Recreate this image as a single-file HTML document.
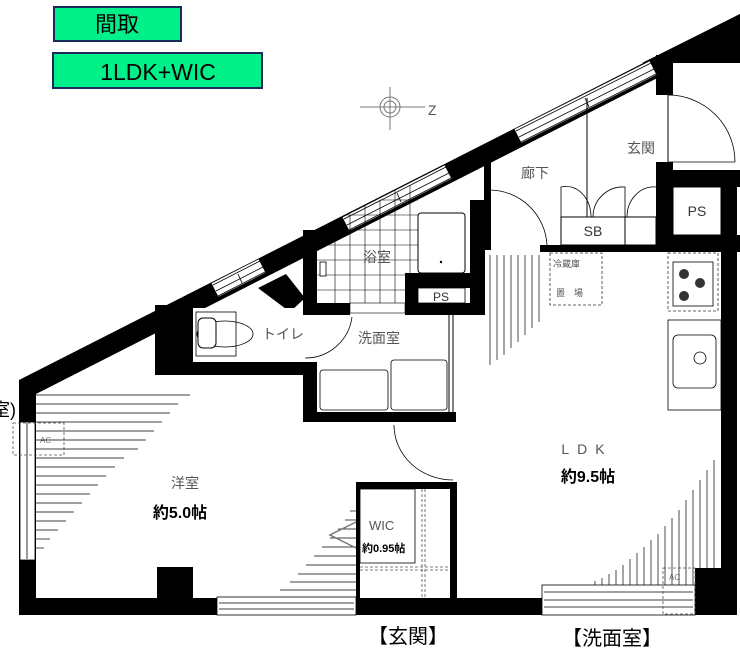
<!DOCTYPE html>
<html><head><meta charset="utf-8"><style>
html,body{margin:0;padding:0;background:#fff;}
svg{display:block;}
text{font-family:"Liberation Sans","Noto Sans CJK JP",sans-serif;}
</style></head><body>
<svg width="740" height="650" viewBox="0 0 740 650" xmlns="http://www.w3.org/2000/svg">
<rect x="54" y="7" width="127" height="34" fill="#00f08a" stroke="#1b2a5a" stroke-width="2"/>
<text x="117" y="32" font-size="22" text-anchor="middle" fill="#000">間取</text>
<rect x="53" y="53" width="209" height="35" fill="#00f08a" stroke="#1b2a5a" stroke-width="2"/>
<text x="158" y="80" font-size="23" text-anchor="middle" fill="#000">1LDK+WIC</text>
<g stroke="#777" fill="none" stroke-width="1">
<circle cx="390" cy="107" r="10"/><circle cx="390" cy="107" r="6"/>
<line x1="360" y1="107" x2="425" y2="107"/><line x1="390" y1="87" x2="390" y2="130"/>
</g>
<text x="428" y="115" font-size="14" fill="#555">Z</text>
<text x="-8" y="416" font-size="18" fill="#000">室)</text>

<g fill="#000">
<polygon points="19,380 740,14 740,36 36,394"/>
<polygon points="642,63 740,14 740,63"/>
<rect x="656" y="55" width="17" height="40"/>
<rect x="656" y="162" width="17" height="90"/>
<rect x="656" y="170" width="84" height="17"/>
<rect x="656" y="235" width="84" height="17"/>
<rect x="721" y="170" width="16" height="445"/>
<rect x="19" y="380" width="17" height="235"/>
<rect x="19" y="598" width="718" height="17"/>
<rect x="695" y="568" width="42" height="47"/>
<rect x="157" y="567" width="36" height="31"/>
<rect x="155" y="305" width="38" height="70"/>
<rect x="157" y="362" width="160" height="13"/>
<rect x="303" y="362" width="14" height="60"/>
<rect x="303" y="412" width="153" height="10"/>
<polygon points="258,288 286,274 305,298 290,312"/>
<rect x="303" y="230" width="14" height="85"/>
<rect x="303" y="303" width="47" height="12"/>
<rect x="405" y="273" width="15" height="42"/>
<rect x="405" y="303" width="80" height="12"/>
<rect x="470" y="200" width="15" height="115"/>
<rect x="405" y="273" width="80" height="15"/>
<rect x="484" y="160" width="7" height="90"/>
<rect x="540" y="245" width="116" height="7"/>
<rect x="356" y="482" width="101" height="7"/>
<rect x="450" y="482" width="7" height="116"/>
<rect x="356" y="482" width="4" height="116"/>
</g>
<g stroke-linecap="butt">
<line x1="215" y1="290" x2="262" y2="266" stroke="#fff" stroke-width="15"/>
<line x1="346" y1="224" x2="448" y2="172" stroke="#fff" stroke-width="15"/>
<line x1="518" y1="136" x2="653" y2="68" stroke="#fff" stroke-width="15"/>
<g stroke="#000" stroke-width="0.8">
<line x1="213" y1="285" x2="260" y2="261"/><line x1="216" y1="291" x2="263" y2="267"/><line x1="218" y1="296" x2="265" y2="272"/>
<line x1="344" y1="219" x2="446" y2="167"/><line x1="347" y1="225" x2="449" y2="173"/><line x1="349" y1="230" x2="451" y2="178"/>
<line x1="516" y1="131" x2="651" y2="63"/><line x1="519" y1="137" x2="654" y2="69"/><line x1="521" y1="142" x2="656" y2="74"/>
<line x1="238" y1="274" x2="242" y2="283"/><line x1="397" y1="193" x2="401" y2="202"/><line x1="585" y1="98" x2="589" y2="107"/>
</g>
</g>
<rect x="217" y="597" width="139" height="18" fill="#fff" stroke="#000" stroke-width="0.8"/>
<line x1="219" y1="603" x2="354" y2="603" stroke="#000" stroke-width="0.8"/>
<line x1="219" y1="609" x2="354" y2="609" stroke="#000" stroke-width="0.8"/>
<rect x="542" y="585" width="153" height="30" fill="#fff" stroke="#000" stroke-width="0.8"/>
<g stroke="#000" stroke-width="0.8"><line x1="544" y1="592" x2="693" y2="592"/><line x1="544" y1="600" x2="693" y2="600"/><line x1="544" y1="607" x2="693" y2="607"/></g>
<rect x="20" y="422" width="15" height="138" fill="#fff" stroke="#000" stroke-width="0.8"/>
<line x1="27" y1="423" x2="27" y2="559" stroke="#000" stroke-width="0.8"/>
<rect x="13" y="423" width="51" height="32" fill="none" stroke="#555" stroke-width="0.8" stroke-dasharray="3,2"/>
<text x="40" y="443" font-size="8" fill="#777">AC</text>
<rect x="663" y="568" width="32" height="46" fill="none" stroke="#555" stroke-width="0.8" stroke-dasharray="3,2"/>
<text x="669" y="580" font-size="8" fill="#777">AC</text>

<rect x="673" y="63" width="64" height="107" fill="#fff"/>
<line x1="668" y1="95" x2="668" y2="162" stroke="#000" stroke-width="1"/>
<path d="M668,95 A67,67 0 0 1 735,162" fill="none" stroke="#000" stroke-width="0.8"/>
<line x1="668" y1="162" x2="735" y2="162" stroke="#000" stroke-width="0.8"/>
<rect x="673" y="187" width="48" height="48" fill="#fff" stroke="#000" stroke-width="1"/>
<text x="697" y="216" font-size="14" text-anchor="middle" fill="#333">PS</text>
<line x1="587" y1="98" x2="587" y2="217" stroke="#000" stroke-width="1"/>
<rect x="561" y="217" width="95" height="28" fill="#fff" stroke="#000" stroke-width="1"/>
<line x1="625" y1="217" x2="625" y2="245" stroke="#000" stroke-width="1"/>
<g fill="none" stroke="#000" stroke-width="0.8">
<path d="M561,217 L561,187 A25,30 0 0 1 591,217"/><path d="M625,217 L625,187 A30,30 0 0 0 593,217"/><path d="M627,217 A27,30 0 0 1 656,187"/>
<line x1="489" y1="250" x2="489" y2="190"/>
<path d="M489,190 A58,58 0 0 1 547,245"/>
</g>
<text x="627" y="153" font-size="14" fill="#555">玄関</text>
<text x="521" y="178" font-size="14" fill="#555">廊下</text>
<text x="593" y="236" font-size="14" text-anchor="middle" fill="#333">SB</text>
<g stroke="#000" stroke-width="0.7">
<line x1="490" y1="255" x2="490" y2="365"/><line x1="497" y1="255" x2="497" y2="360"/><line x1="504" y1="255" x2="504" y2="355"/><line x1="511" y1="255" x2="511" y2="348"/><line x1="518" y1="255" x2="518" y2="342"/><line x1="525" y1="255" x2="525" y2="335"/><line x1="532" y1="255" x2="532" y2="328"/><line x1="539" y1="255" x2="539" y2="322"/>
</g>
<g stroke="#000" stroke-width="0.7">
<line x1="714" y1="460" x2="714" y2="568"/><line x1="707" y1="470" x2="707" y2="568"/><line x1="700" y1="480" x2="700" y2="568"/><line x1="693" y1="490" x2="693" y2="585"/><line x1="686" y1="500" x2="686" y2="585"/><line x1="679" y1="510" x2="679" y2="585"/><line x1="672" y1="518" x2="672" y2="585"/><line x1="665" y1="526" x2="665" y2="585"/><line x1="658" y1="534" x2="658" y2="585"/><line x1="651" y1="540" x2="651" y2="585"/><line x1="644" y1="547" x2="644" y2="585"/><line x1="637" y1="553" x2="637" y2="585"/><line x1="630" y1="559" x2="630" y2="585"/><line x1="623" y1="565" x2="623" y2="585"/><line x1="616" y1="570" x2="616" y2="585"/><line x1="609" y1="574" x2="609" y2="585"/><line x1="602" y1="578" x2="602" y2="585"/><line x1="595" y1="581" x2="595" y2="585"/>
</g>
<rect x="550" y="253" width="52" height="52" fill="none" stroke="#333" stroke-width="0.8" stroke-dasharray="3,2"/>
<text x="553" y="267" font-size="9" fill="#555">冷蔵庫</text>
<text x="556" y="296" font-size="9" fill="#555">置　場</text>
<rect x="668" y="253" width="50" height="58" fill="none" stroke="#333" stroke-width="0.8" stroke-dasharray="3,2"/>
<rect x="673" y="262" width="40" height="44" fill="none" stroke="#000" stroke-width="0.8"/>
<g fill="#333"><circle cx="684" cy="274" r="5"/><circle cx="700" cy="283" r="5"/><circle cx="684" cy="296" r="5"/></g>
<rect x="668" y="320" width="53" height="90" fill="none" stroke="#000" stroke-width="0.8"/>
<rect x="673" y="335" width="43" height="53" rx="5" fill="none" stroke="#000" stroke-width="0.8"/>
<circle cx="700" cy="358" r="6" fill="none" stroke="#000" stroke-width="0.8"/>
<g stroke="#000" stroke-width="0.6">
<line x1="335" y1="230" x2="335" y2="303"/><line x1="350" y1="215" x2="350" y2="303"/><line x1="365" y1="205" x2="365" y2="303"/><line x1="380" y1="200" x2="380" y2="303"/><line x1="395" y1="190" x2="395" y2="303"/><line x1="410" y1="185" x2="410" y2="273"/>
<line x1="317" y1="230" x2="418" y2="230"/><line x1="317" y1="245" x2="418" y2="245"/><line x1="317" y1="260" x2="418" y2="260"/><line x1="317" y1="275" x2="405" y2="275"/><line x1="317" y1="290" x2="405" y2="290"/><line x1="345" y1="215" x2="418" y2="215"/><line x1="380" y1="200" x2="418" y2="200"/>
</g>
<rect x="418" y="213" width="47" height="60" rx="3" fill="#fff" stroke="#000" stroke-width="1"/>
<circle cx="441" cy="262" r="1.2" fill="#000"/>
<rect x="320" y="262" width="6" height="14" fill="#fff" stroke="#000" stroke-width="0.8"/>
<rect x="418" y="288" width="47" height="15" fill="#fff" stroke="#000" stroke-width="0.8"/>
<text x="441" y="301" font-size="12" text-anchor="middle" fill="#333">PS</text>
<rect x="350" y="303" width="55" height="10" fill="#fff" stroke="#000" stroke-width="0.6"/>
<text x="377" y="262" font-size="14" text-anchor="middle" fill="#555">浴室</text>
<rect x="193" y="308" width="110" height="54" fill="#fff"/>
<rect x="196" y="312" width="40" height="44" fill="none" stroke="#000" stroke-width="0.8"/>
<ellipse cx="225" cy="334" rx="28" ry="13" fill="none" stroke="#000" stroke-width="0.8"/>
<rect x="198" y="318" width="18" height="30" rx="5" fill="#fff" stroke="#000" stroke-width="1"/>
<text x="262" y="339" font-size="14" fill="#555">トイレ</text>
<path d="M352,317 A47,47 0 0 1 305,358" fill="none" stroke="#000" stroke-width="0.8"/>
<text x="358" y="343" font-size="14" fill="#555">洗面室</text>
<rect x="320" y="370" width="68" height="40" rx="3" fill="none" stroke="#000" stroke-width="0.8"/>
<rect x="391" y="360" width="56" height="50" rx="3" fill="none" stroke="#000" stroke-width="0.8"/>
<line x1="449" y1="315" x2="449" y2="412" stroke="#000" stroke-width="1"/><line x1="453" y1="315" x2="453" y2="412" stroke="#000" stroke-width="1"/>
<path d="M394,425 A59,55 0 0 0 453,480" fill="none" stroke="#000" stroke-width="0.8"/>
<g stroke="#000" stroke-width="0.7">
<line x1="36" y1="395" x2="190" y2="395"/><line x1="36" y1="404" x2="178" y2="404"/><line x1="36" y1="413" x2="170" y2="413"/><line x1="36" y1="422" x2="162" y2="422"/><line x1="36" y1="431" x2="154" y2="431"/><line x1="36" y1="440" x2="146" y2="440"/><line x1="36" y1="449" x2="138" y2="449"/><line x1="36" y1="458" x2="124" y2="458"/><line x1="36" y1="467" x2="115" y2="467"/><line x1="36" y1="476" x2="106" y2="476"/><line x1="36" y1="485" x2="98" y2="485"/><line x1="36" y1="494" x2="90" y2="494"/><line x1="36" y1="503" x2="82" y2="503"/><line x1="36" y1="512" x2="74" y2="512"/><line x1="36" y1="521" x2="66" y2="521"/><line x1="36" y1="530" x2="58" y2="530"/><line x1="36" y1="539" x2="50" y2="539"/><line x1="36" y1="548" x2="44" y2="548"/>
<line x1="350" y1="511" x2="356" y2="511"/><line x1="345" y1="520" x2="356" y2="520"/><line x1="338" y1="529" x2="356" y2="529"/><line x1="330" y1="538" x2="356" y2="538"/><line x1="322" y1="547" x2="356" y2="547"/><line x1="314" y1="556" x2="356" y2="556"/><line x1="306" y1="565" x2="356" y2="565"/><line x1="298" y1="574" x2="356" y2="574"/><line x1="290" y1="582" x2="356" y2="582"/><line x1="280" y1="590" x2="356" y2="590"/>
</g>
<rect x="360" y="489" width="55" height="74" fill="none" stroke="#000" stroke-width="0.8"/>
<line x1="422" y1="489" x2="422" y2="598" stroke="#555" stroke-width="0.8" stroke-dasharray="3,2"/>
<line x1="425" y1="489" x2="425" y2="598" stroke="#555" stroke-width="0.8" stroke-dasharray="3,2"/>
<line x1="360" y1="567" x2="450" y2="567" stroke="#555" stroke-width="0.8" stroke-dasharray="3,2"/>
<line x1="360" y1="570" x2="450" y2="570" stroke="#555" stroke-width="0.8" stroke-dasharray="3,2"/>
<path d="M356,522 L330,535 L356,548" fill="none" stroke="#777" stroke-width="1.5"/>
<text x="369" y="530" font-size="13" fill="#555">WIC</text>
<text x="362" y="552" font-size="11" font-weight="bold" fill="#000">約0.95帖</text>
<text x="185" y="488" font-size="14" text-anchor="middle" fill="#555">洋室</text>
<text x="180" y="518" font-size="16" font-weight="bold" text-anchor="middle" fill="#000">約5.0帖</text>
<text x="587" y="454" font-size="14" text-anchor="middle" fill="#555" letter-spacing="8">LDK</text>
<text x="588" y="482" font-size="16" font-weight="bold" text-anchor="middle" fill="#000">約9.5帖</text>
<text x="408" y="643" font-size="20" text-anchor="middle" fill="#000">【玄関】</text>
<text x="612" y="645" font-size="20" text-anchor="middle" fill="#000">【洗面室】</text>
</svg>
</body></html>
